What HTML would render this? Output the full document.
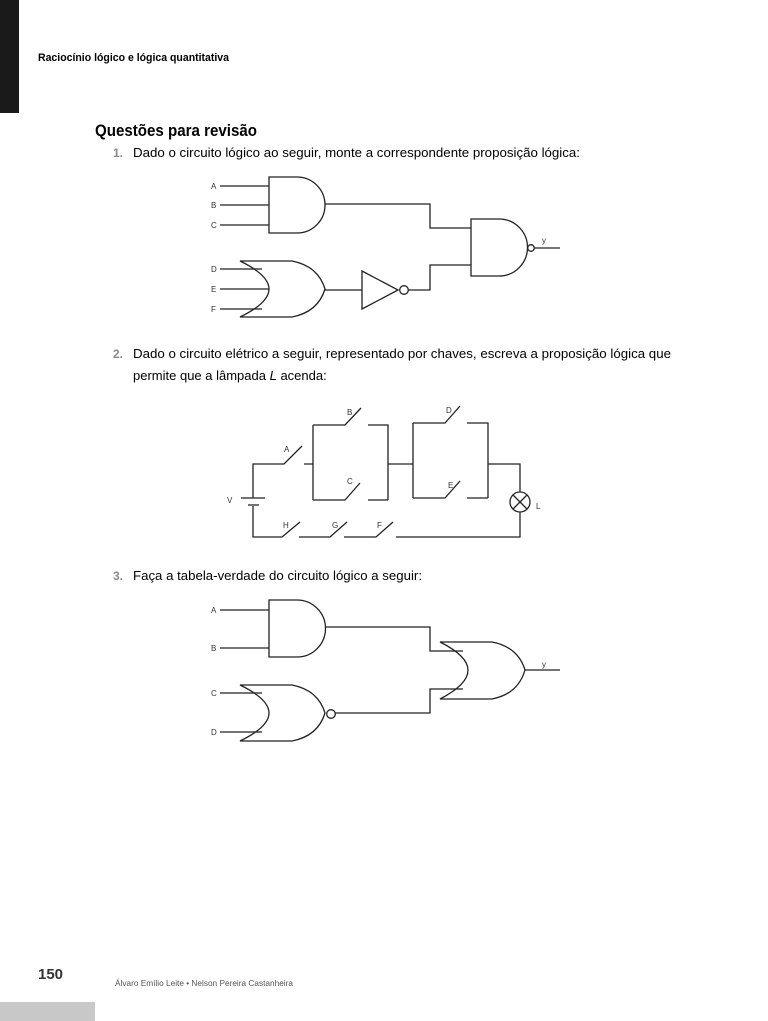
<!DOCTYPE html>
<html><head><meta charset="utf-8"><style>
html,body{margin:0;padding:0;background:#fff;width:768px;height:1021px;overflow:hidden}
svg{display:block}
text{font-family:"Liberation Sans",sans-serif}
.w{fill:none;stroke:#222;stroke-width:1.3}
.l{font-size:8px;fill:#333}
</style></head><body>
<svg width="768" height="1021" viewBox="0 0 768 1021">
<rect x="0" y="0" width="19" height="113" fill="#1a1a1a"/>
<text x="38" y="61" font-size="11" font-weight="bold" textLength="191" lengthAdjust="spacingAndGlyphs">Raciocínio lógico e lógica quantitativa</text>
<text x="95" y="136" font-size="17" font-weight="bold" textLength="162" lengthAdjust="spacingAndGlyphs">Questões para revisão</text>

<text x="113" y="157" font-size="12" fill="#8a8a8a" font-weight="bold">1.</text>
<text x="133" y="157" font-size="13" textLength="447" lengthAdjust="spacingAndGlyphs">Dado o circuito lógico ao seguir, monte a correspondente proposição lógica:</text>

<g>
<path class="w" d="M220,186H269M220,205H269M220,225H269"/>
<path class="w" d="M269,177H297A28,28 0 0 1 297,233H269Z"/>
<path class="w" d="M325,204H430V228H471"/>
<path class="w" d="M471,219H499A28.5,28.5 0 0 1 499,276H471Z"/>
<circle class="w" cx="531" cy="248" r="3.3"/>
<path class="w" d="M534,248H560"/>
<path class="w" d="M240,261L292,261Q318,266 325,289Q318,312 292,317L240,317Q298,289 240,261Z"/>
<path class="w" d="M220,269H262M220,289H269M220,309H262"/>
<path class="w" d="M325,290H362"/>
<path class="w" d="M362,271L398,290L362,309Z"/>
<circle class="w" cx="404" cy="290" r="4.3"/>
<path class="w" d="M408,290H430V265H471"/>
<text class="l" x="211" y="189">A</text><text class="l" x="211" y="208">B</text><text class="l" x="211" y="228">C</text>
<text class="l" x="211" y="272">D</text><text class="l" x="211" y="292">E</text><text class="l" x="211" y="312">F</text>
<text class="l" x="542" y="243">y</text>
</g>

<text x="113" y="358" font-size="12" fill="#8a8a8a" font-weight="bold">2.</text>
<text x="133" y="358" font-size="13" textLength="538" lengthAdjust="spacingAndGlyphs">Dado o circuito elétrico a seguir, representado por chaves, escreva a proposição lógica que</text>
<text x="133" y="380" font-size="13">permite que a lâmpada <tspan font-style="italic">L</tspan> acenda:</text>

<g>
<path class="w" d="M253,498V464H284L302,446"/>
<path class="w" d="M241,498H265M248,505H259"/>
<path class="w" d="M253,506V537H282L300,522"/>
<path class="w" d="M304,464H313M313,425V500"/>
<path class="w" d="M313,425H345L361,408M368,425H388V500M313,500H345L360,483M368,500H388"/>
<path class="w" d="M388,464H413M413,423V498"/>
<path class="w" d="M413,423H445L460,406M467,423H488V498M413,498H445L460,481M467,498H488"/>
<path class="w" d="M488,464H520V492"/>
<circle class="w" cx="520" cy="502" r="10"/>
<path class="w" d="M513,495L527,509M527,495L513,509"/>
<path class="w" d="M520,512V537H396"/>
<path class="w" d="M299,537H330L347,522M344,537H376L393,522"/>
<text class="l" x="347" y="415">B</text><text class="l" x="284" y="452">A</text><text class="l" x="347" y="484">C</text>
<text class="l" x="446" y="413">D</text><text class="l" x="448" y="488">E</text><text class="l" x="227" y="503">V</text>
<text class="l" x="536" y="509">L</text><text class="l" x="283" y="528">H</text><text class="l" x="332" y="528">G</text><text class="l" x="377" y="528">F</text>
</g>

<text x="113" y="580" font-size="12" fill="#8a8a8a" font-weight="bold">3.</text>
<text x="133" y="580" font-size="13" textLength="289" lengthAdjust="spacingAndGlyphs">Faça a tabela-verdade do circuito lógico a seguir:</text>

<g>
<path class="w" d="M220,610H269M220,648H269"/>
<path class="w" d="M269,600H297A28.5,28.5 0 0 1 297,657H269Z"/>
<path class="w" d="M325,627H430V651H463"/>
<path class="w" d="M440,642L492,642Q518,647 525,670Q518,694 492,699L440,699Q496,670 440,642Z"/>
<path class="w" d="M525,670H560"/>
<path class="w" d="M240,685L292,685Q318,690 325,713Q318,736 292,741L240,741Q298,713 240,685Z"/>
<path class="w" d="M220,693H262M220,732H262"/>
<circle class="w" cx="331" cy="714" r="4.3"/>
<path class="w" d="M335,713H430V689H463"/>
<text class="l" x="211" y="613">A</text><text class="l" x="211" y="651">B</text><text class="l" x="211" y="696">C</text><text class="l" x="211" y="735">D</text>
<text class="l" x="542" y="667">y</text>
</g>

<text x="38" y="979" font-size="15" font-weight="bold" fill="#333">150</text>
<text x="115" y="986" font-size="8.5" fill="#555" textLength="178" lengthAdjust="spacingAndGlyphs">Álvaro Emílio Leite  •  Nelson Pereira Castanheira</text>
<rect x="0" y="1002" width="95" height="19" fill="#c8c8c8"/>
</svg>
</body></html>
